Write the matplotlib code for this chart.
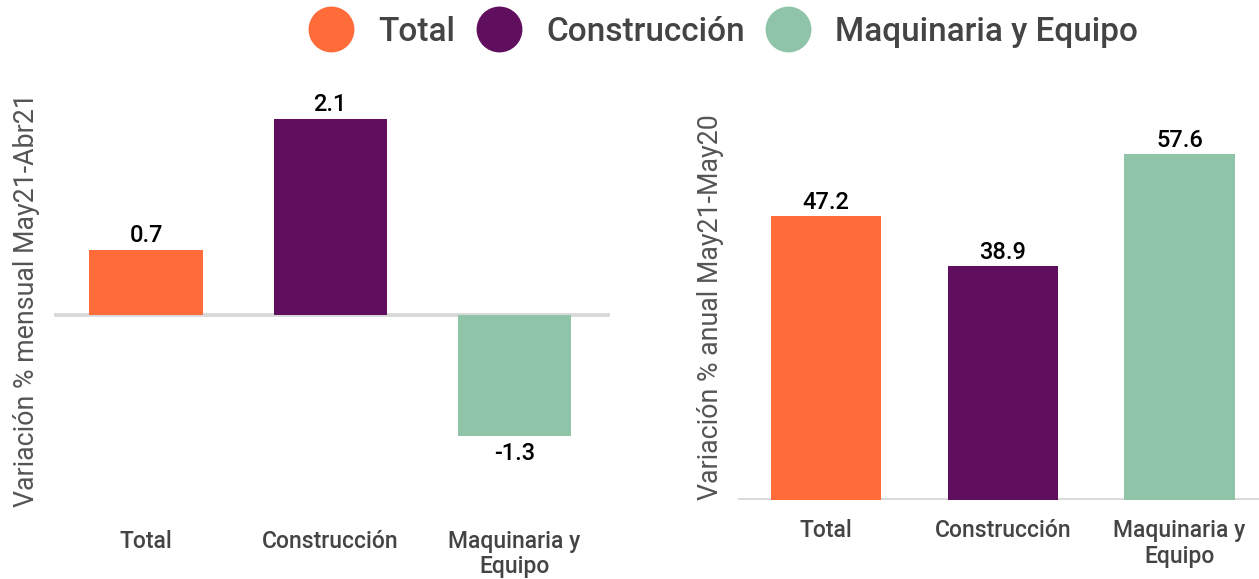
import matplotlib
matplotlib.use('Agg')
import matplotlib.pyplot as plt
from matplotlib.lines import Line2D

plt.rcParams['font.family'] = ['Roboto', 'DejaVu Sans']

categorias = ['Total', 'Construcción', 'Maquinaria y\nEquipo']
leyenda = ['Total', 'Construcción', 'Maquinaria y Equipo']
mensual = [0.7, 2.1, -1.3]
anual = [47.2, 38.9, 57.6]
colores = ['#FF6B39', '#600F5E', '#8FC4A8']

W, H = 1259, 579
fig = plt.figure(figsize=(W / 100, H / 100), dpi=100)


def px_axes(x0, y0, x1, y1):
    # caja en pixeles (origen arriba a la izquierda) -> fraccion de figura
    return fig.add_axes([x0 / W, 1 - y1 / H, (x1 - x0) / W, (y1 - y0) / H])


def estilo(ax, ylabel):
    for s in ax.spines.values():
        s.set_visible(False)
    ax.set_yticks([])
    ax.set_xticks(range(len(categorias)))
    ax.set_xticklabels(categorias, fontsize=16.5, color='#444444', fontweight='medium',
                       linespacing=1.12, va='top')
    ax.set_ylabel(ylabel, fontsize=19.3, color='#555555', labelpad=10)


# mensual
ax1 = px_axes(54, 95, 610, 505)
ax1.bar(range(3), mensual, width=0.615, color=colores, zorder=2)
ax1.axhline(0, color='#D9D9D9', lw=2.8, zorder=1)
ax1.set_xlim(-0.5, 2.52)
ax1.set_ylim(-2.04, 2.36)
estilo(ax1, 'Variación % mensual May21-Abr21')
for i, v in enumerate(mensual):
    off = 0.03 if v > 0 else -0.06
    ax1.text(i, v + off, f'{v:.1f}', ha='center', va='bottom' if v > 0 else 'top',
             fontsize=17, fontweight='medium', color='black')
ax1.tick_params(axis='x', length=0, pad=18)

# anual
ax2 = px_axes(738, 115, 1259, 500)
ax2.bar(range(3), anual, width=0.625, color=colores, zorder=2)
ax2.axhline(0, color='#D9D9D9', lw=2.8, zorder=1)
ax2.set_xlim(-0.5, 2.45)
ax2.set_ylim(0, 64)
estilo(ax2, 'Variación % anual May21-May20')
for i, v in enumerate(anual):
    ax2.text(i, v + 0.3, f'{v:.1f}', ha='center', va='bottom',
             fontsize=17, fontweight='medium', color='black')
ax2.tick_params(axis='x', length=0, pad=14)

handles = [Line2D([], [], marker='o', ls='', markersize=32, color=c) for c in colores]
fig.legend(handles, leyenda, loc='center', bbox_to_anchor=(718 / W, 1 - 32 / H),
           ncol=3, frameon=False, labelcolor='#444444',
           prop={'size': 24, 'weight': 'medium'},
           handletextpad=0.42, columnspacing=0.3)

fig.savefig('out.png', dpi=100)
